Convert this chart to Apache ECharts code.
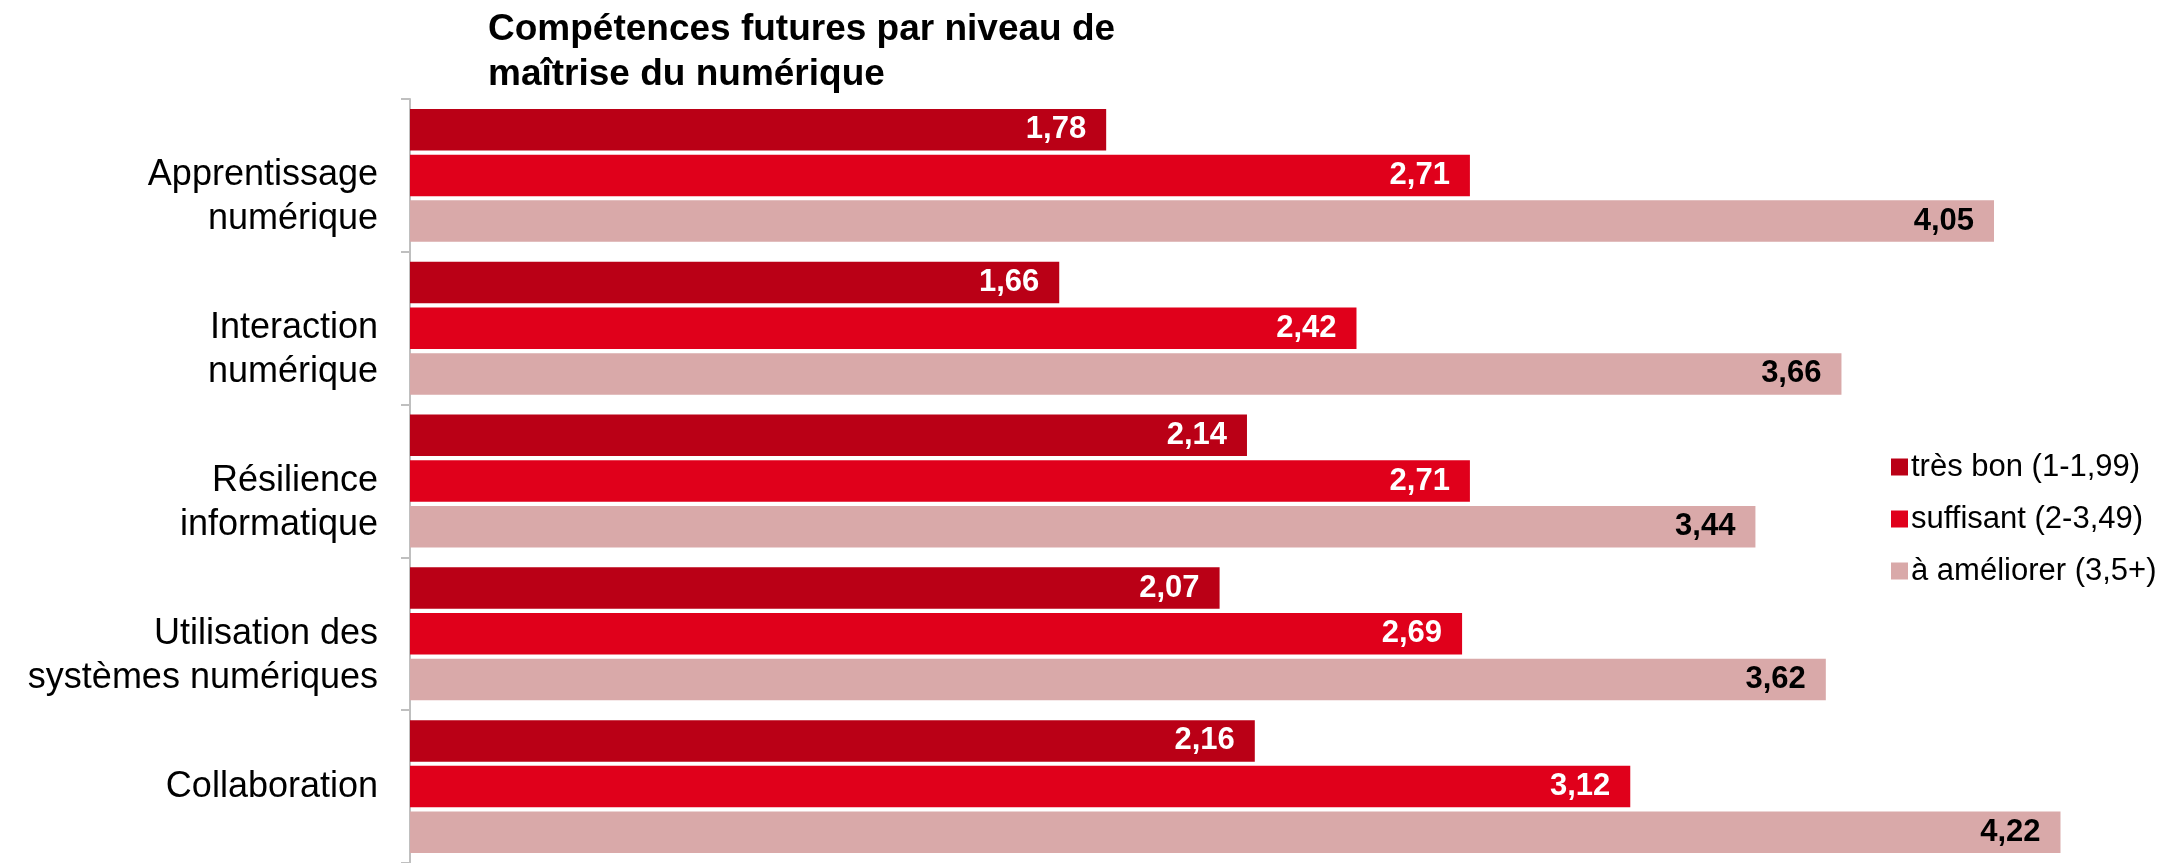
<!DOCTYPE html>
<html>
<head>
<meta charset="utf-8">
<script src="https://cdn.jsdelivr.net/npm/echarts@6/dist/echarts.min.js"></script>
<style>
  html, body { margin: 0; padding: 0; background: #fff; }
  #chart { width: 2181px; height: 863px; }
</style>
</head>
<body>
<div id="chart"></div>
<script>
// Data
var categories = [
    'Apprentissage\nnumérique',
    'Interaction\nnumérique',
    'Résilience\ninformatique',
    'Utilisation des\nsystèmes numériques',
    'Collaboration'
];
var seriesNames = ['très bon (1-1,99)', 'suffisant (2-3,49)', 'à améliorer (3,5+)'];
var tresBon    = [1.78, 1.66, 2.14, 2.07, 2.16];
var suffisant  = [2.71, 2.42, 2.71, 2.69, 3.12];
var aAmeliorer = [4.05, 3.66, 3.44, 3.62, 4.22];

var colors = ['#BA0016', '#E0001B', '#D9A9A9'];
var labelColors = ['#ffffff', '#ffffff', '#000000'];

var chart = echarts.init(document.getElementById('chart'));

function barSeries(idx, values) {
    return {
        name: seriesNames[idx],
        type: 'bar',
        data: values,
        barGap: '10%',
        barCategoryGap: '13%',
        itemStyle: { color: colors[idx] },
        label: {
            show: true,
            position: 'insideRight',
            distance: 20,
            color: labelColors[idx],
            fontFamily: 'Liberation Sans, Arial, sans-serif',
            fontWeight: 'bold',
            fontSize: 31,
            formatter: function (p) {
                return p.value.toFixed(2).replace('.', ',');
            }
        }
    };
}

chart.setOption({
    animation: false,
    textStyle: { fontFamily: 'Liberation Sans, Arial, sans-serif' },
    title: {
        text: 'Compétences futures par niveau de\nmaîtrise du numérique',
        left: 483,
        top: 2,
        textStyle: {
            fontFamily: 'Liberation Sans, Arial, sans-serif',
            fontWeight: 'bold',
            fontSize: 37,
            lineHeight: 45,
            color: '#000'
        }
    },
    legend: {
        orient: 'vertical',
        left: 1886,
        top: 445,
        itemWidth: 17,
        itemHeight: 17,
        itemGap: 18,
        icon: 'rect',
        textStyle: {
            fontSize: 31,
            lineHeight: 34,
            color: '#000',
            padding: [0, 0, 0, -2]
        },
        data: seriesNames
    },
    grid: {
        left: 410,
        right: 11,
        top: 99,
        bottom: -6,
        containLabel: false
    },
    xAxis: {
        type: 'value',
        min: 0,
        max: 4.5,
        show: false
    },
    yAxis: {
        type: 'category',
        data: categories,
        inverse: true,
        axisLine: { show: true, lineStyle: { color: '#BFBFBF', width: 2 } },
        axisTick: { show: true, length: 9, lineStyle: { color: '#BFBFBF', width: 2 } },
        axisLabel: {
            margin: 32,
            fontSize: 36,
            lineHeight: 44,
            color: '#000',
            align: 'right',
            formatter: function (v) {
                // first line sits on the band centre, second line below
                return v.indexOf('\n') >= 0 ? '\n' + v : v;
            }
        }
    },
    series: [
        barSeries(0, tresBon),
        barSeries(1, suffisant),
        barSeries(2, aAmeliorer)
    ]
});

window.addEventListener('resize', function () {
    chart.resize();
});
</script>
</body>
</html>
